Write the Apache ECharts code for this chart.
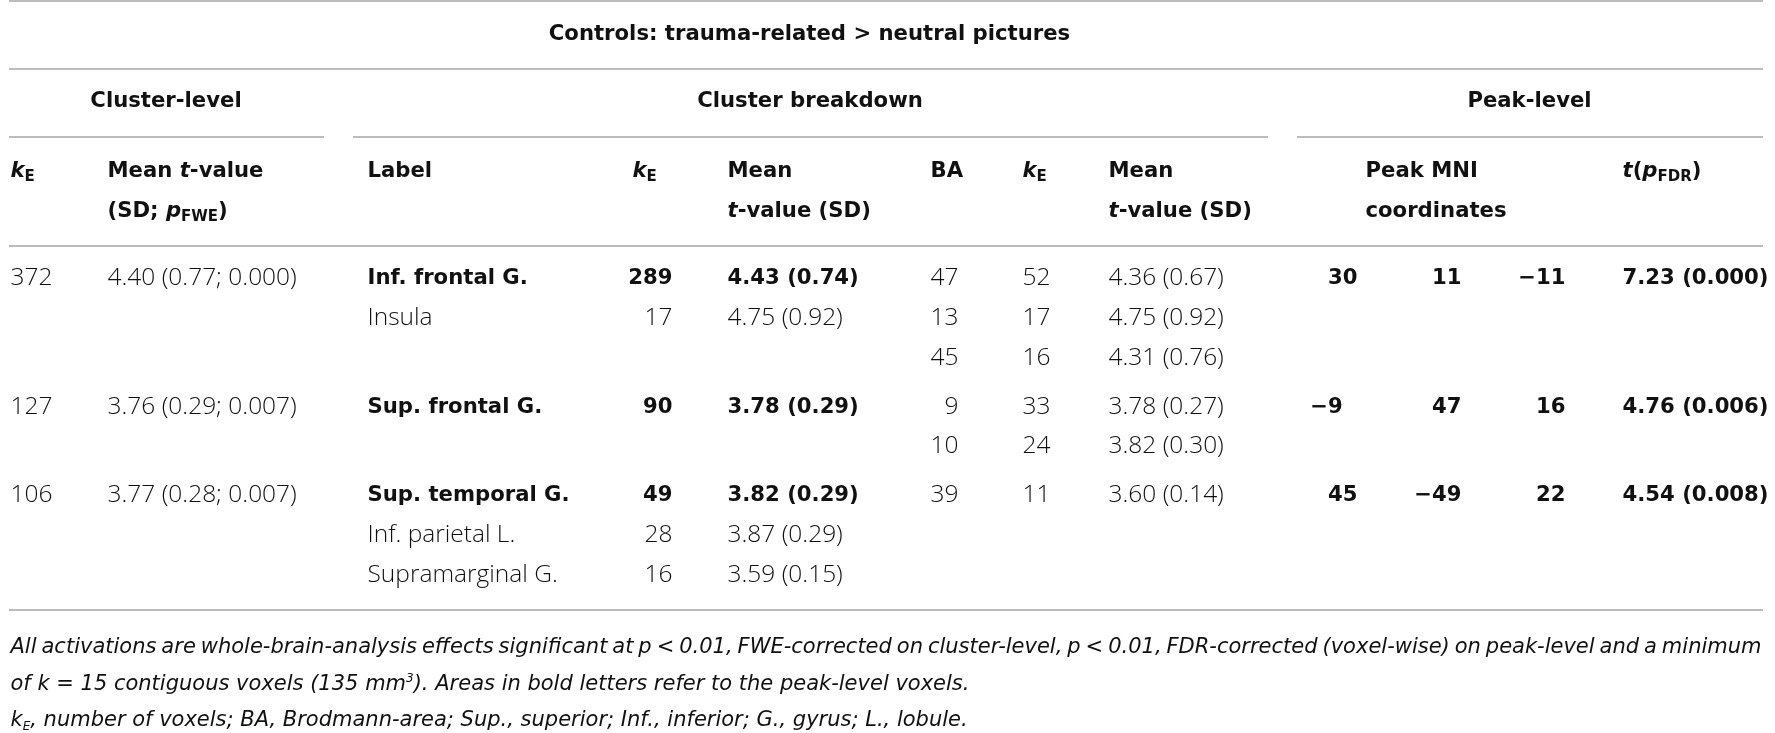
<!DOCTYPE html>
<html>
<head>
<meta charset="utf-8">
<script src="https://cdn.jsdelivr.net/npm/echarts@6/dist/echarts.min.js"></script>
<style>
  html, body { margin: 0; padding: 0; background: #fff; }
  #table_chart { width: 1775px; height: 733px; }
</style>
</head>
<body>
<div id="table_chart"></div>
<script>
'use strict';

// ---- table data ----
const title = 'Controls: trauma-related > neutral pictures';
const groupTitles = ['Cluster-level', 'Cluster breakdown', 'Peak-level'];

// cluster-level (one value per table row, null = empty cell)
const clusterK = [372, null, null, 127, null, 106, null, null];
const clusterMeanT = [4.40, null, null, 3.76, null, 3.77, null, null];
const clusterSD = [0.77, null, null, 0.29, null, 0.28, null, null];
const clusterPFWE = [0.000, null, null, 0.007, null, 0.007, null, null];

// cluster breakdown: anatomical labels
const regionLabels = ['Inf. frontal G.', 'Insula', null, 'Sup. frontal G.', null, 'Sup. temporal G.', 'Inf. parietal L.', 'Supramarginal G.'];
const regionK = [289, 17, null, 90, null, 49, 28, 16];
const regionMeanT = [4.43, 4.75, null, 3.78, null, 3.82, 3.87, 3.59];
const regionSD = [0.74, 0.92, null, 0.29, null, 0.29, 0.29, 0.15];
const regionPeak = [true, false, false, true, false, true, false, false];

// cluster breakdown: Brodmann areas
const baArea = [47, 13, 45, 9, 10, 39, null, null];
const baK = [52, 17, 16, 33, 24, 11, null, null];
const baMeanT = [4.36, 4.75, 4.31, 3.78, 3.82, 3.60, null, null];
const baSD = [0.67, 0.92, 0.76, 0.27, 0.30, 0.14, null, null];

// peak-level
const peakX = [30, null, null, -9, null, 45, null, null];
const peakY = [11, null, null, 47, null, -49, null, null];
const peakZ = [-11, null, null, 16, null, 22, null, null];
const peakT = [7.23, null, null, 4.76, null, 4.54, null, null];
const peakPFDR = [0.000, null, null, 0.006, null, 0.008, null, null];

const footFirst = 'All activations are whole-brain-analysis effects significant at p < 0.01, FWE-corrected on cluster-level, p < 0.01, FDR-corrected (voxel-wise) on peak-level and a minimum';
const footRest = [
    '{fi|of k = 15 contiguous voxels (135 mm}{fsup|3}{fi|). Areas in bold letters refer to the peak-level voxels.}',
    '{fi|k}{fsub|E}{fi|, number of voxels; BA, Brodmann-area; Sup., superior; Inf., inferior; G., gyrus; L., lobule.}'
];

// ---- layout (pixels on a hidden 1775 x 733 value grid) ----
const W = 1775, H = 733;
const rowY = [279, 319, 359, 408, 447, 496, 536, 576];
const headY = [172, 212];
const groupY = 102;
const titleY = 35;
const footY = [648, 685, 721];
const footLeft = 11, footRight = 1762;
const col = {
    ck: 11, cmean: 108, label: 368, rk: 673, rmean: 728,
    ba: 959, bk: 1023, bmean: 1109,
    px: 1358, py: 1462, pz: 1566, pt: 1623, mni: 1366
};
const groupSpans = [[9, 324], [353, 1268], [1297, 1763]];
const ruleY = {top: 1, title: 69, group: 137, head: 246, bottom: 610};

const BODY_FONT = '"Open Sans", "Liberation Sans", sans-serif';
const BOLD_FONT = '"DejaVu Sans", sans-serif';
const FOOT_FONT = '"DejaVu Sans", sans-serif';
const TXT = '#111';
const BOLD_SIZE = 21.2, BODY_SIZE = 24.5, FOOT_SIZE = 21;

const num = (v, d) => {
    const s = Math.abs(v).toFixed(d);
    return v < 0 ? '\u2212' + s : s;
};
// peak coordinates are aligned on the tens digit
const coord = v => num(v, 0) + (Math.abs(v) < 10 ? '\u2007' : '');

const cells = [];
const addCell = (x, y, text, align, extra) => {
    if (text === null || text === undefined || text === '') return;
    cells.push({
        value: [x, y],
        label: Object.assign({formatter: String(text), align: align}, extra || {})
    });
};
const bold = {fontFamily: BOLD_FONT, fontSize: BOLD_SIZE, fontWeight: 700};
const light = {fontFamily: BODY_FONT, fontSize: BODY_SIZE, fontWeight: 300};

// title & groups
addCell(810, titleY, title, 'center', bold);
const groupCenters = groupSpans.map(s => (s[0] + s[1]) / 2);
groupTitles.forEach((t, i) => addCell(groupCenters[i], groupY, t, 'center', bold));

// column headers
const kE = '{hi|k}{hs|E}';
addCell(col.ck, headY[0], kE, 'left');
addCell(col.cmean, headY[0], '{h|Mean }{hi|t}{h|-value}', 'left');
addCell(col.cmean, headY[1], '{h|(SD; }{hi|p}{hs|FWE}{h|)}', 'left');
addCell(col.label, headY[0], '{h|Label}', 'left');
addCell(633, headY[0], kE, 'left');
addCell(col.rmean, headY[0], '{h|Mean}', 'left');
addCell(col.rmean, headY[1], '{hi|t}{h|-value (SD)}', 'left');
addCell(931, headY[0], '{h|BA}', 'left');
addCell(col.bk, headY[0], kE, 'left');
addCell(col.bmean, headY[0], '{h|Mean}', 'left');
addCell(col.bmean, headY[1], '{hi|t}{h|-value (SD)}', 'left');
addCell(col.mni, headY[0], '{h|Peak MNI}', 'left');
addCell(col.mni, headY[1], '{h|coordinates}', 'left');
addCell(col.pt, headY[0], '{hi|t}{h|(}{hi|p}{hs|FDR}{h|)}', 'left');

// body rows
rowY.forEach((y, i) => {
    if (clusterK[i] !== null) {
        addCell(col.ck, y, clusterK[i], 'left', light);
        addCell(col.cmean, y, `${num(clusterMeanT[i], 2)} (${num(clusterSD[i], 2)}; ${num(clusterPFWE[i], 3)})`, 'left', light);
    }
    const w = regionPeak[i] ? bold : light;
    addCell(col.label, y, regionLabels[i], 'left', w);
    if (regionK[i] !== null) {
        addCell(col.rk, y, regionK[i], 'right', w);
        addCell(col.rmean, y, `${num(regionMeanT[i], 2)} (${num(regionSD[i], 2)})`, 'left', w);
    }
    if (baArea[i] !== null) {
        addCell(col.ba, y, baArea[i], 'right', light);
        addCell(col.bk, y, baK[i], 'left', light);
        addCell(col.bmean, y, `${num(baMeanT[i], 2)} (${num(baSD[i], 2)})`, 'left', light);
    }
    if (peakX[i] !== null) {
        addCell(col.px, y, coord(peakX[i]), 'right', bold);
        addCell(col.py, y, coord(peakY[i]), 'right', bold);
        addCell(col.pz, y, coord(peakZ[i]), 'right', bold);
        addCell(col.pt, y, `${num(peakT[i], 2)} (${num(peakPFDR[i], 3)})`, 'left', bold);
    }
});

// footnote: first line justified word by word
const ctx = document.createElement('canvas').getContext('2d');
ctx.font = `italic 300 ${FOOT_SIZE}px ${FOOT_FONT}`;
const words = footFirst.split(' ');
const wordW = words.map(s => ctx.measureText(s).width);
const gap = (footRight - footLeft - wordW.reduce((a, b) => a + b, 0)) / (words.length - 1);
let cx = footLeft;
words.forEach((s, i) => {
    addCell(cx, footY[0], `{fi|${s}}`, 'left');
    cx += wordW[i] + gap;
});
footRest.forEach((t, i) => addCell(footLeft, footY[i + 1], t, 'left'));

// horizontal rules
const fullRule = y => [{coord: [9, y]}, {coord: [1763, y]}];
const rules = [
    fullRule(ruleY.top), fullRule(ruleY.title), fullRule(ruleY.head), fullRule(ruleY.bottom)
].concat(groupSpans.map(s => [{coord: [s[0], ruleY.group]}, {coord: [s[1], ruleY.group]}]));

const chart = echarts.init(document.getElementById('table_chart'));

const option = {
    backgroundColor: '#fff',
    animation: false,
    grid: {left: 0, right: 0, top: 0, bottom: 0},
    xAxis: {type: 'value', min: 0, max: W, show: false},
    yAxis: {type: 'value', min: 0, max: H, inverse: true, show: false},
    series: [{
        type: 'scatter',
        symbolSize: 1,
        silent: true,
        itemStyle: {color: 'rgba(0,0,0,0)', opacity: 1},
        label: {
            show: true,
            position: [0, 0],
            verticalAlign: 'middle',
            fontFamily: BODY_FONT,
            fontSize: BODY_SIZE,
            color: TXT,
            rich: {
                h: {fontFamily: BOLD_FONT, fontSize: BOLD_SIZE, fontWeight: 700, color: TXT, lineHeight: 26},
                hi: {fontFamily: BOLD_FONT, fontSize: BOLD_SIZE, fontWeight: 700, fontStyle: 'italic', color: TXT, lineHeight: 26},
                hs: {fontFamily: BOLD_FONT, fontSize: 15, fontWeight: 700, color: TXT, lineHeight: 14, verticalAlign: 'bottom'},
                fi: {fontFamily: FOOT_FONT, fontSize: FOOT_SIZE, fontWeight: 300, fontStyle: 'italic', color: TXT, lineHeight: 24},
                fsup: {fontFamily: FOOT_FONT, fontSize: 12, fontWeight: 300, fontStyle: 'italic', color: TXT, lineHeight: 12, verticalAlign: 'top'},
                fsub: {fontFamily: FOOT_FONT, fontSize: 12, fontWeight: 300, fontStyle: 'italic', color: TXT, lineHeight: 12, verticalAlign: 'bottom'}
            }
        },
        labelLayout: {hideOverlap: false},
        data: cells,
        markLine: {
            silent: true,
            symbol: 'none',
            label: {show: false},
            lineStyle: {color: '#a6a6a6', width: 1.6, type: 'solid', opacity: 1},
            data: rules
        }
    }]
};

chart.setOption(option);
</script>
</body>
</html>
